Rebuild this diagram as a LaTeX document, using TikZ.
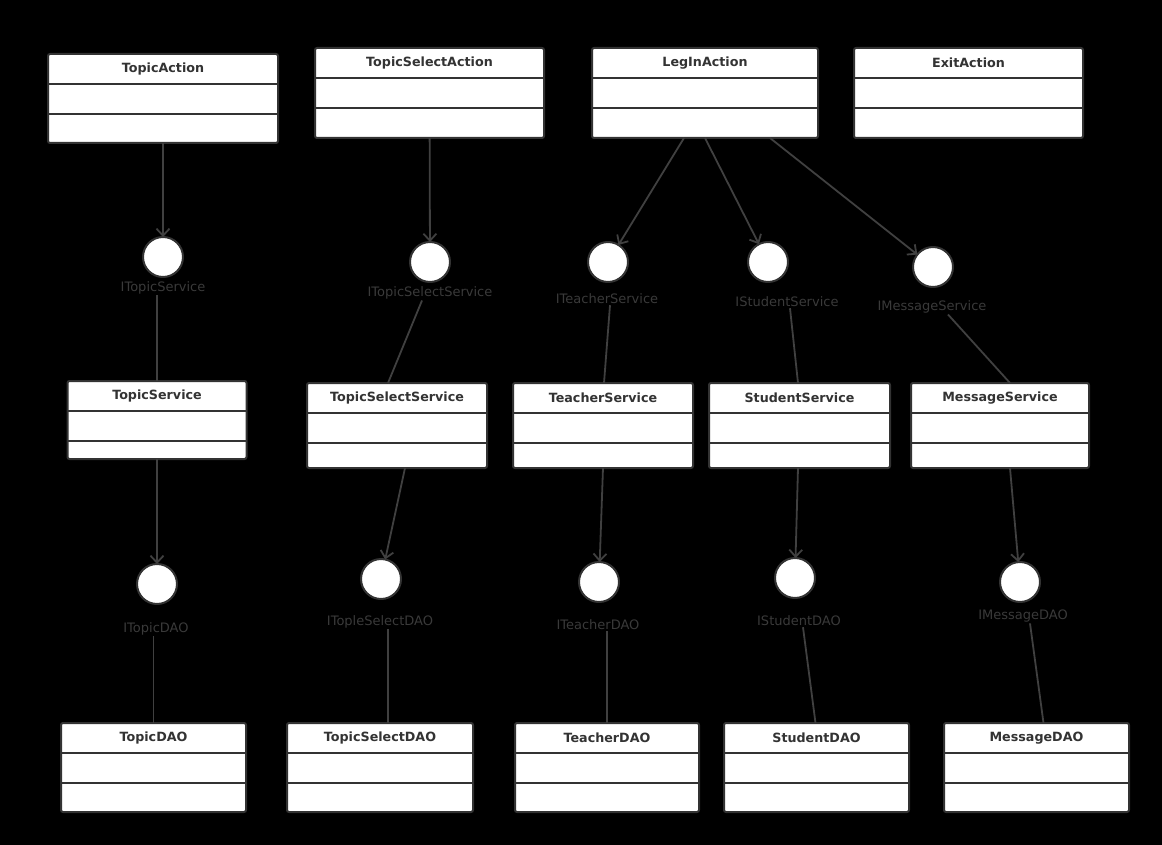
\documentclass[tikz,border=0pt]{standalone}
\usepackage{fontspec}
\setmainfont{DejaVu Sans}
\usepackage{tikz}
\usetikzlibrary{arrows.meta}
\definecolor{boxLine}{HTML}{333333}
\definecolor{linkGray}{HTML}{404040}
\definecolor{labelGray}{HTML}{3A3A3A}
% class box: name, centre x, top y, width, height, title
\newcommand{\umlclass}[6]{%
  \node[cls,minimum width=#4,minimum height=#5,anchor=north] (#1) at (#2,#3) {};
  \node[ctitle] (#1-t) at ([yshift=-15pt]#1.north) {#6};
  \draw[cls line] ([yshift=-30pt]#1.north west) -- ([yshift=-30pt]#1.north east);
  \draw[cls line] ([yshift=-60pt]#1.north west) -- ([yshift=-60pt]#1.north east);
}

\begin{document}
\begin{tikzpicture}[
    x=1pt,y=-1pt,
    cls/.style={draw=boxLine,fill=white,line width=2pt,rounded corners=2pt,
      inner sep=0pt,outer sep=0pt},
    cls line/.style={draw=boxLine,line width=2pt},
    ctitle/.style={text=boxLine,font=\fontsize{12.7}{14}\selectfont\bfseries,inner sep=0pt},
    iface/.style={circle,draw=boxLine,fill=white,line width=2pt,
      minimum size=40pt,inner sep=0pt,outer sep=0pt},
    lbl/.style={text=labelGray,font=\fontsize{13}{15}\selectfont,inner sep=1pt},
    dep/.style={draw=linkGray,line width=1.8pt,-{Straight Barb[length=7pt,width=13pt]}},
    link/.style={draw=linkGray,line width=1.8pt}
  ]
    \fill[black] (0,0) rectangle (1162,845);
    \useasboundingbox (0,0) rectangle (1162,845);

    % actions
    \umlclass{topicAct}{163}{54}{230}{89}{TopicAction}
    \umlclass{topicSelAct}{429.5}{48}{229}{90}{TopicSelectAction}
    \umlclass{legIn}{705}{48}{226}{90}{LegInAction}
    \umlclass{exitAct}{968.5}{48}{229}{90}{ExitAction}

    % services
    \umlclass{topicSvc}{157}{381}{179}{78}{TopicService}
    \umlclass{topicSelSvc}{397}{383}{180}{85}{TopicSelectService}
    \umlclass{teacherSvc}{603}{383}{180}{85}{TeacherService}
    \umlclass{studentSvc}{799.5}{383}{181}{85}{StudentService}
    \umlclass{msgSvc}{1000}{383}{178}{85}{MessageService}

    % daos
    \umlclass{topicDao}{153.5}{723}{185}{89}{TopicDAO}
    \umlclass{topicSelDao}{380}{723}{186}{89}{TopicSelectDAO}
    \umlclass{teacherDao}{607}{723}{184}{89}{TeacherDAO}
    \umlclass{studentDao}{816.5}{723}{185}{89}{StudentDAO}
    \umlclass{msgDao}{1036.5}{723}{185}{89}{MessageDAO}

    % service interfaces
    \node[iface] (iTopicSvc) at (163,257) {};
    \node[lbl] (lTopicSvc) at (163,288) {ITopicService};
    \node[iface] (iTopicSelSvc) at (430,262) {};
    \node[lbl] (lTopicSelSvc) at (430,293) {ITopicSelectService};
    \node[iface] (iTeacherSvc) at (608,262) {};
    \node[lbl] (lTeacherSvc) at (607,299) {ITeacherService};
    \node[iface] (iStudentSvc) at (768,262) {};
    \node[lbl] (lStudentSvc) at (787,302) {IStudentService};
    \node[iface] (iMsgSvc) at (933,267) {};
    \node[lbl] (lMsgSvc) at (932,307) {IMessageService};

    % dao interfaces
    \node[iface] (iTopicDao) at (157,584) {};
    \node[lbl] (lTopicDao) at (156,629) {ITopicDAO};
    \node[iface] (iTopicSelDao) at (381,579) {};
    \node[lbl] (lTopicSelDao) at (380,622) {ITopleSelectDAO};
    \node[iface] (iTeacherDao) at (599,582) {};
    \node[lbl] (lTeacherDao) at (598,625) {ITeacherDAO};
    \node[iface] (iStudentDao) at (795,578) {};
    \node[lbl] (lStudentDao) at (799,621) {IStudentDAO};
    \node[iface] (iMsgDao) at (1020,582) {};
    \node[lbl] (lMsgDao) at (1023,616) {IMessageDAO};

    % action -> service interface
    \draw[dep] (topicAct) -- (iTopicSvc);
    \draw[dep] (topicSelAct) -- (iTopicSelSvc);
    \draw[dep] ([xshift=-21pt]legIn.south) -- (iTeacherSvc);
    \draw[dep] (legIn.south) -- (iStudentSvc);
    \draw[dep] ([xshift=65pt]legIn.south) -- (iMsgSvc);

    % service interface -- service
    \draw[link] (topicSvc.north |- lTopicSvc.south) -- (topicSvc);
    \draw[link] ([xshift=-8pt]lTopicSelSvc.south) -- ([xshift=-9pt]topicSelSvc.north);
    \draw[link] ([xshift=3pt]lTeacherSvc.south) -- ([xshift=1pt]teacherSvc.north);
    \draw[link] ([xshift=3pt]lStudentSvc.south) -- ([xshift=-1.5pt]studentSvc.north);
    \draw[link] ([xshift=16pt]lMsgSvc.south) -- ([xshift=10pt]msgSvc.north);

    % service -> dao interface
    \draw[dep] (topicSvc) -- (iTopicDao);
    \draw[dep] ([xshift=8pt]topicSelSvc.south) -- (iTopicSelDao);
    \draw[dep] (teacherSvc.south) -- (iTeacherDao);
    \draw[dep] ([xshift=-1.5pt]studentSvc.south) -- (iStudentDao);
    \draw[dep] ([xshift=10pt]msgSvc.south) -- (iMsgDao);

    % dao interface -- dao
    \draw[link] (topicDao.north |- lTopicDao.south) -- (topicDao);
    \draw[link] ([xshift=8pt]topicSelDao.north |- lTopicSelDao.south) -- ([xshift=8pt]topicSelDao.north);
    \draw[link] (teacherDao.north |- lTeacherDao.south) -- (teacherDao);
    \draw[link] ([xshift=4pt]lStudentDao.south) -- ([xshift=-1pt]studentDao.north);
    \draw[link] ([xshift=7pt]lMsgDao.south) -- ([xshift=7pt]msgDao.north);
\end{tikzpicture}
\end{document}
